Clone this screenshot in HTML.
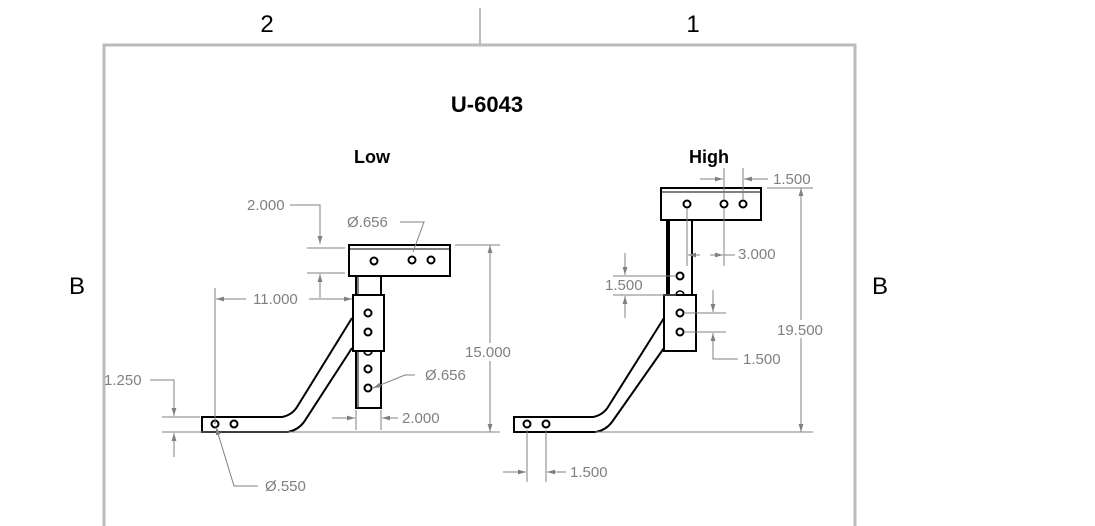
<!DOCTYPE html>
<html><head><meta charset="utf-8"><style>
html,body{margin:0;padding:0;background:#fff;}
svg{display:block;}
text{font-family:"Liberation Sans",sans-serif;}
.d{fill:#808080;font-size:15px;}
.b{fill:none;stroke:#000;stroke-width:2;}
.g{fill:none;stroke:#808080;stroke-width:1;}
.h{fill:#fff;stroke:#000;stroke-width:2;}
</style></head><body>
<svg width="1095" height="526" viewBox="0 0 1095 526" xmlns="http://www.w3.org/2000/svg">
<defs>
<marker id="a" viewBox="0 0 10 6" refX="10" refY="3" markerWidth="8" markerHeight="5" orient="auto-start-reverse" markerUnits="userSpaceOnUse"><path d="M0,0L10,3L0,6z" fill="#808080"/></marker>
</defs>
<path d="M104,526V45H855V526" fill="none" stroke="#bbb" stroke-width="3"/>
<line x1="480" y1="8" x2="480" y2="45" stroke="#bbb" stroke-width="2"/>
<text x="267" y="32" font-size="24" text-anchor="middle" fill="#000">2</text>
<text x="693" y="32" font-size="24" text-anchor="middle" fill="#000">1</text>
<text x="77" y="294" font-size="24" text-anchor="middle" fill="#000">B</text>
<text x="880" y="294" font-size="24" text-anchor="middle" fill="#000">B</text>
<text x="487" y="112" font-size="22" font-weight="bold" text-anchor="middle" fill="#000">U-6043</text>
<text x="372" y="163" font-size="18" font-weight="bold" text-anchor="middle" fill="#000">Low</text>
<text x="709" y="163" font-size="18" font-weight="bold" text-anchor="middle" fill="#000">High</text>

<!-- LOW part -->
<rect x="356" y="276" width="25" height="132" class="b" stroke-width="3"/>
<line x1="358" y1="276" x2="358" y2="408" stroke="#000" stroke-width="1"/>
<rect x="349" y="245" width="101" height="31" class="h"/>
<line x1="349" y1="249" x2="450" y2="249" stroke="#000" stroke-width="1"/>
<rect x="353" y="295" width="31" height="56" class="h"/>
<path d="M282,417H202V432H288" class="b"/>
<path d="M202,417H282Q292,415 297,407L352,318" class="b"/>
<path d="M288,432Q298,430 304,422L352,348" class="b"/>
<g class="h" stroke-width="1.6">
<circle cx="374" cy="261" r="3.5"/><circle cx="412" cy="260" r="3.5"/><circle cx="431" cy="260" r="3.5"/>
<circle cx="368" cy="313" r="3.5"/><circle cx="368" cy="332" r="3.5"/>
<circle cx="368" cy="369" r="3.5"/><circle cx="368" cy="388" r="3.5"/>
<circle cx="215" cy="424" r="3.5"/><circle cx="234" cy="424" r="3.5"/>
</g>
<path d="M364,351A4,4 0 0 0 372,351" fill="none" stroke="#000" stroke-width="1.6"/>
<g class="g">
<line x1="162" y1="432" x2="500" y2="432"/>
<line x1="455" y1="245" x2="500" y2="245"/>
<line x1="490" y1="343" x2="490" y2="245" marker-end="url(#a)"/>
<line x1="490" y1="361" x2="490" y2="432" marker-end="url(#a)"/>
<path d="M290,205H320V244" marker-end="url(#a)"/>
<line x1="307" y1="248" x2="345" y2="248"/>
<line x1="307" y1="273" x2="345" y2="273"/>
<line x1="320" y1="298" x2="320" y2="274" marker-end="url(#a)"/>
<path d="M400,222H424L413,252"/>
<line x1="215" y1="288" x2="215" y2="424"/>
<line x1="246" y1="299" x2="216" y2="299" marker-end="url(#a)"/>
<line x1="309" y1="299" x2="352" y2="299" marker-end="url(#a)"/>
<path d="M150,380H174V416" marker-end="url(#a)"/>
<line x1="162" y1="417" x2="200" y2="417"/>
<line x1="174" y1="457" x2="174" y2="433" marker-end="url(#a)"/>
<path d="M415,375H405L373,388" marker-end="url(#a)"/>
<line x1="356" y1="410" x2="356" y2="430"/>
<line x1="381" y1="410" x2="381" y2="430"/>
<line x1="332" y1="418" x2="355" y2="418" marker-end="url(#a)"/>
<line x1="398" y1="418" x2="382" y2="418" marker-end="url(#a)"/>
<path d="M258,486H234L216,427" marker-end="url(#a)"/>
</g>
<g class="d">
<text x="247" y="210">2.000</text>
<text x="347" y="227">Ø.656</text>
<text x="465" y="357">15.000</text>
<text x="253" y="304">11.000</text>
<text x="104" y="385">1.250</text>
<text x="425" y="380">Ø.656</text>
<text x="402" y="423">2.000</text>
<text x="265" y="491">Ø.550</text>
</g>

<!-- HIGH part -->
<rect x="667" y="220" width="25" height="75" class="b" stroke-width="3"/>
<line x1="669" y1="220" x2="669" y2="295" stroke="#000" stroke-width="2"/>
<rect x="661" y="188" width="100" height="32" class="h"/>
<line x1="661" y1="192" x2="761" y2="192" stroke="#000" stroke-width="1"/>
<rect x="664" y="295" width="32" height="56" class="h"/>
<path d="M593,417H514V432H596" class="b"/>
<path d="M514,417H593Q603,415 608,407L664,318" class="b"/>
<path d="M596,432Q606,430 612,422L664,348" class="b"/>
<g class="h" stroke-width="1.6">
<circle cx="687" cy="204" r="3.5"/><circle cx="724" cy="204" r="3.5"/><circle cx="743" cy="204" r="3.5"/>
<circle cx="680" cy="276" r="3.5"/>
<circle cx="680" cy="313" r="3.5"/><circle cx="680" cy="332" r="3.5"/>
<circle cx="527" cy="424" r="3.5"/><circle cx="546" cy="424" r="3.5"/>
</g>
<path d="M676,295A4,4 0 0 1 684,295" fill="none" stroke="#000" stroke-width="1.6"/>
<g class="g">
<line x1="595" y1="432" x2="813" y2="432"/>
<line x1="767" y1="188" x2="813" y2="188"/>
<line x1="801" y1="320" x2="801" y2="188" marker-end="url(#a)"/>
<line x1="801" y1="338" x2="801" y2="432" marker-end="url(#a)"/>
<line x1="724" y1="168" x2="724" y2="200"/>
<line x1="743" y1="168" x2="743" y2="200"/>
<line x1="700" y1="179" x2="723" y2="179" marker-end="url(#a)"/>
<line x1="768" y1="179" x2="744" y2="179" marker-end="url(#a)"/>
<line x1="687" y1="208" x2="687" y2="266"/>
<line x1="724" y1="208" x2="724" y2="266"/>
<line x1="700" y1="255" x2="688" y2="255" marker-end="url(#a)"/>
<line x1="710" y1="255" x2="723" y2="255" marker-end="url(#a)"/>
<line x1="724" y1="255" x2="735" y2="255"/>
<line x1="613" y1="276" x2="676" y2="276"/>
<line x1="613" y1="295" x2="676" y2="295"/>
<line x1="625" y1="253" x2="625" y2="275" marker-end="url(#a)"/>
<line x1="625" y1="318" x2="625" y2="296" marker-end="url(#a)"/>
<line x1="684" y1="313" x2="726" y2="313"/>
<line x1="684" y1="332" x2="726" y2="332"/>
<line x1="713" y1="290" x2="713" y2="312" marker-end="url(#a)"/>
<path d="M738,359H713V333" marker-end="url(#a)"/>
<line x1="527" y1="430" x2="527" y2="482"/>
<line x1="546" y1="430" x2="546" y2="482"/>
<line x1="503" y1="472" x2="526" y2="472" marker-end="url(#a)"/>
<line x1="566" y1="472" x2="547" y2="472" marker-end="url(#a)"/>
</g>
<g class="d">
<text x="773" y="184">1.500</text>
<text x="738" y="259">3.000</text>
<text x="605" y="290">1.500</text>
<text x="743" y="364">1.500</text>
<text x="777" y="335">19.500</text>
<text x="570" y="477">1.500</text>
</g>
</svg>
</body></html>
